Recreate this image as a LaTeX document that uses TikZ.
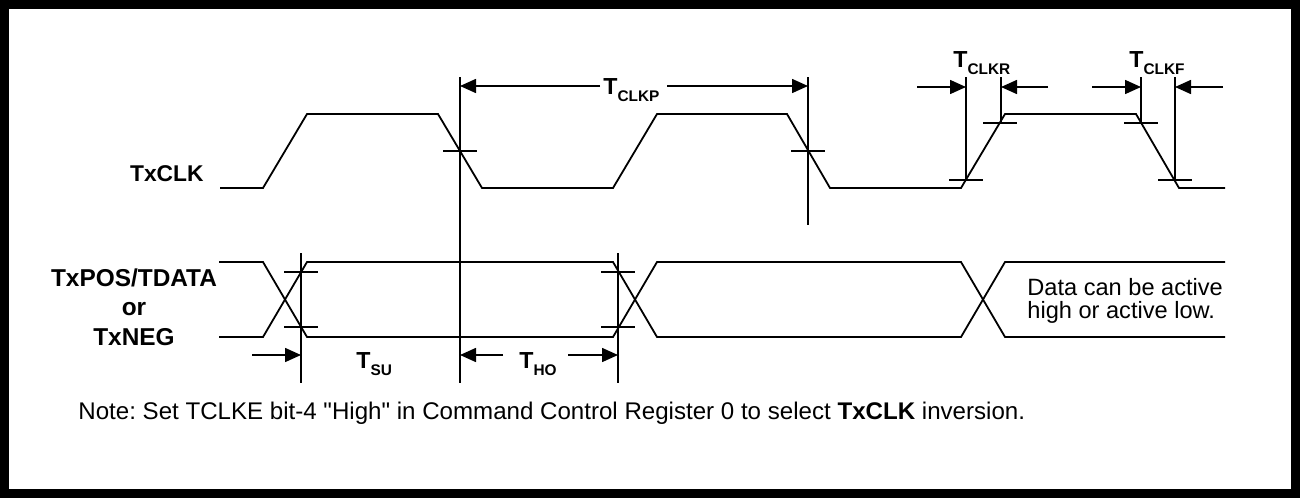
\documentclass[tikz,border=0pt]{standalone}
\usepackage{fontspec}
\setmainfont{Liberation Sans}[Ligatures=TeXOff]
\usetikzlibrary{arrows.meta,positioning,calc}

% timing symbol: bold T with a lowered small subscript
\newcommand{\tdim}[1]{T\raisebox{-3.8pt}{\fontsize{7.7}{8}\selectfont #1}}

\begin{document}
\frenchspacing
\begin{tikzpicture}[x=0.5pt,y=-0.5pt,>={Triangle[length=8pt,width=7pt]},
   wave/.style={line width=0.9pt,line join=miter},
   guide/.style={line width=0.7pt},
   dim/.style={->,line width=0.8pt},
   lbl/.style={font=\fontsize{11.4}{14.75}\selectfont\bfseries,inner sep=0pt},
   tlbl/.style={font=\fontsize{11.6}{14}\selectfont\bfseries,inner sep=0pt,anchor=base west},
   txt/.style={font=\fontsize{11.8}{11.5}\selectfont,inner sep=0pt}]
  \useasboundingbox (0,0) rectangle (1300,498);
  \draw[line width=4.5pt] (4.5,4.5) rectangle (1295.5,493.5);

  % signal names
  \node[lbl,anchor=east] (clk) at (204,174) {TxCLK};
  \node[lbl,anchor=north,align=center,font=\fontsize{12.2}{14.75}\selectfont\bfseries]
    (data) at (134,268) {TxPOS/TDATA\\or\\TxNEG};

  % clock
  \draw[wave] (220,188) -- (263,188) -- (307,114) -- (438,114) -- (482,188)
    -- (613,188) -- (657,114) -- (787,114) -- (830,188) -- (961,188)
    -- (1005,114) -- (1136,114) -- (1179,188) -- (1225,188);

  % data
  \draw[wave] (219,262) -- (263,262) -- (307,337) -- (613,337) -- (657,262)
    -- (961,262) -- (1005,337) -- (1225,337);
  \draw[wave] (219,337) -- (263,337) -- (307,262) -- (613,262) -- (657,337)
    -- (961,337) -- (1005,262) -- (1225,262);

  % guide lines
  \coordinate (gsu) at (301,253);
  \coordinate (gck) at (460,77);
  \coordinate (gho) at (618,253);
  \coordinate (gcp) at (808,77);
  \coordinate (gr1) at (966,77);
  \coordinate (gr2) at (1001,77);
  \coordinate (gf1) at (1141,77);
  \coordinate (gf2) at (1175,77);
  \draw[guide] (gsu) -- ++(0,130);
  \draw[guide] (gck) -- ++(0,306);
  \draw[guide] (gho) -- ++(0,130);
  \draw[guide] (gcp) -- ++(0,148);
  \draw[guide] (gr1) -- ++(0,103);
  \draw[guide] (gr2) -- ++(0,46);
  \draw[guide] (gf1) -- ++(0,46);
  \draw[guide] (gf2) -- ++(0,103);

  % level ticks
  \foreach \x/\y in {460/151,808/151,966/180,1000/123,1141/123,1175/180,
                     301/272,301/327,618/272,618/327}
    \draw[guide] (\x-17,\y) -- (\x+17,\y);

  % timing labels
  \node[tlbl] (tclkp) at (603,94) {\tdim{CLKP}};
  \node[tlbl] (tclkr) at (953,67) {\tdim{CLKR}};
  \node[tlbl] (tclkf) at (1129,67) {\tdim{CLKF}};
  \node[tlbl] (tsu) at (356,368) {\tdim{SU}};
  \node[tlbl] (tho) at (519,368) {\tdim{HO}};

  % arrow tails
  \coordinate (pl) at (600,86);
  \coordinate (pr) at (667,86);
  \coordinate (rl) at (917,87);
  \coordinate (rr) at (1048,87);
  \coordinate (fl) at (1092,87);
  \coordinate (fr) at (1223,87);
  \coordinate (sl) at (252,355);
  \coordinate (hl) at (503,355);
  \coordinate (hr) at (568,355);
  \draw[dim] (pl) -- (pl -| gck);
  \draw[dim] (pr) -- (pr -| gcp);
  \draw[dim] (rl) -- (rl -| gr1);
  \draw[dim] (rr) -- (rr -| gr2);
  \draw[dim] (fl) -- (fl -| gf1);
  \draw[dim] (fr) -- (fr -| gf2);
  \draw[dim] (sl) -- (sl -| gsu);
  \draw[dim] (hl) -- (hl -| gck);
  \draw[dim] (hr) -- (hr -| gho);

  % notes
  \node[txt,anchor=north west,align=left] (dnote) at (1027,278)
    {Data can be active\\high or active low.};
  \node[txt,anchor=base west,font=\fontsize{12.05}{12}\selectfont] (note) at (78,419)
    {Note: Set TCLKE bit-4 "High" in Command Control Register 0 to select \textbf{TxCLK} inversion.};
\end{tikzpicture}
\end{document}
